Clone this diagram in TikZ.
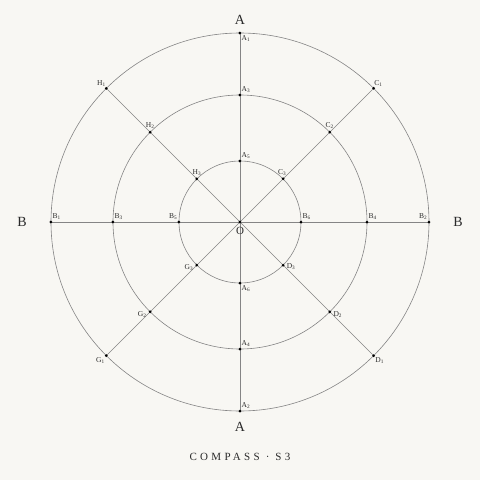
\documentclass[tikz,border=0pt]{standalone}
\usepackage{fontspec}
\setmainfont{Liberation Serif}
\usepackage{tikz}
\usepackage{xcolor}
\usetikzlibrary{positioning, calc}

\definecolor{paper}{HTML}{F8F7F3}
\definecolor{ink}{HTML}{2A2A2A}
\definecolor{rule}{HTML}{858585}

\begin{document}
\begin{tikzpicture}[x=1pt, y=1pt,
    ring/.style={draw=rule, line width=0.6pt},
    spoke/.style={draw=rule, line width=0.6pt},
    tag/.style={font=\fontsize{7.5}{8}\selectfont, text=ink, inner sep=0.5pt},
    wind/.style={font=\fontsize{14}{15}\selectfont, text=ink, inner sep=0pt}]
\fill[paper] (-240,-258) rectangle (240,222);
\useasboundingbox (-240,-258) rectangle (240,222);

% Rings
\foreach \r in {189,127,61} {
    \draw[ring] (0,0) circle (\r pt);
}

% Points on the rings
\coordinate (O) at (0,0);
\foreach \l/\a in {A/90, B/180} {
    \coordinate (\l1) at (\a:189);
    \coordinate (\l3) at (\a:127);
    \coordinate (\l5) at (\a:61);
}
\foreach \l/\a in {A/270, B/0} {
    \coordinate (\l2) at (\a:189);
    \coordinate (\l4) at (\a:127);
    \coordinate (\l6) at (\a:61);
}
% C, D, G, H run 1-2-3 from the outside in
\foreach \l/\a in {C/45, D/-45, G/225, H/135} {
    \coordinate (\l1) at (\a:189);
    \coordinate (\l2) at (\a:127);
    \coordinate (\l3) at (\a:61);
}

% Spokes
\draw[spoke] (A1) -- (A2);
\draw[spoke] (B1) -- (B2);
\draw[spoke] (H1) -- (D1);
\draw[spoke] (C1) -- (G1);

% Dots
\foreach \n in {A1,A2,A3,A4,A5,A6,B1,B2,B3,B4,B5,B6,C1,C2,C3,D1,D2,D3,G1,G2,G3,H1,H2,H3,O} {
    \fill[black] (\n) circle (1.5pt);
}

% Vertical labels
\node[tag, below right=2pt and 1pt of A1] (tA1) {A\textsubscript{1}};
\node[tag, above right=2pt and 1pt of A3] (tA3) {A\textsubscript{3}};
\node[tag, above right=2pt and 1pt of A5] (tA5) {A\textsubscript{5}};
\node[tag, below right=2pt and 1pt of A6] (tA6) {A\textsubscript{6}};
\node[tag, above right=2pt and 1pt of A4] (tA4) {A\textsubscript{4}};
\node[tag, above right=2pt and 1pt of A2] (tA2) {A\textsubscript{2}};

% Horizontal labels
\node[tag, above right=2pt and 1pt of B1] (tB1) {B\textsubscript{1}};
\node[tag, above right=2pt and 1pt of B3] (tB3) {B\textsubscript{3}};
\node[tag, above left=2pt and 1pt of B5] (tB5) {B\textsubscript{5}};
\node[tag, above right=2pt and 1pt of B6] (tB6) {B\textsubscript{6}};
\node[tag, above right=2pt and 1pt of B4] (tB4) {B\textsubscript{4}};
\node[tag, above left=2pt and 1pt of B2] (tB2) {B\textsubscript{2}};

% Diagonal labels
\node[tag, above left=1pt and 0pt of H1] (tH1) {H\textsubscript{1}};
\node[tag, above=3pt of H2] (tH2) {H\textsubscript{2}};
\node[tag, above=3pt of H3] (tH3) {H\textsubscript{3}};
\node[tag, above=3pt of C3, xshift=-1pt] (tC3) {C\textsubscript{3}};
\node[tag, above=3pt of C2] (tC2) {C\textsubscript{2}};
\node[tag, above right=1pt and 0pt of C1] (tC1) {C\textsubscript{1}};
\node[tag, left=3pt of G3, yshift=-2pt] (tG3) {G\textsubscript{3}};
\node[tag, left=3pt of G2, yshift=-3pt] (tG2) {G\textsubscript{2}};
\node[tag, below left=1pt and 1pt of G1] (tG1) {G\textsubscript{1}};
\node[tag, right=3pt of D3, yshift=-1pt] (tD3) {D\textsubscript{3}};
\node[tag, right=3pt of D2, yshift=-3pt] (tD2) {D\textsubscript{2}};
\node[tag, below right=1pt and 1pt of D1] (tD1) {D\textsubscript{1}};

% Centre and winds
\node[font=\fontsize{11}{12}\selectfont, text=ink, inner sep=0pt, below=5pt of O] (tO) {O};
\node[wind] (Anorth) at (0,202) {A};
\node[wind] (Asouth) at (0,-205) {A};
\node[wind] (Bwest) at (-218,0) {B};
\node[wind] (Beast) at (218,0) {B};

% Title
\node[text=ink, font=\fontsize{11}{12}\selectfont\addfontfeature{LetterSpace=30}] (title) at (0,-235) {COMPASS · S3};
\end{tikzpicture}
\end{document}
